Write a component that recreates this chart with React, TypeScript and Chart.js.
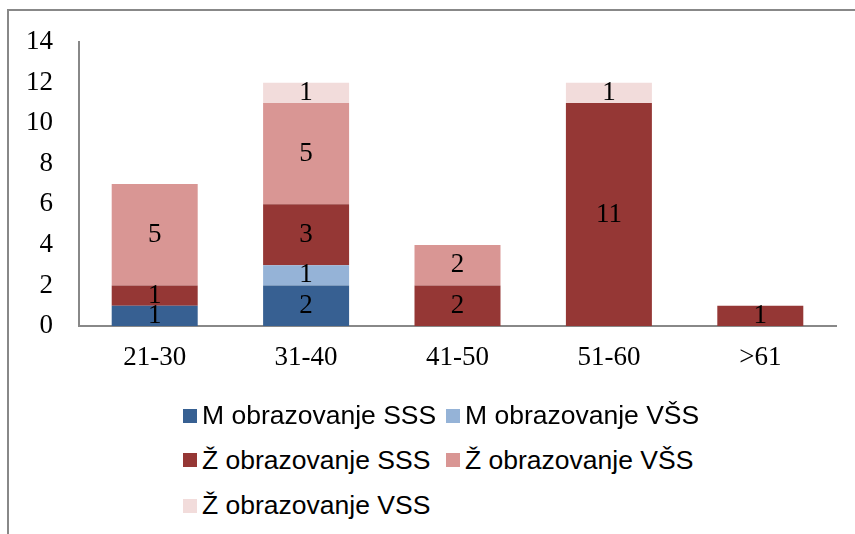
import React, { useEffect, useRef } from "react";
import { Chart, registerables } from "chart.js";

Chart.register(...registerables);

const categories = ["21-30", "31-40", "41-50", "51-60", ">61"];
const mSSS = [1, 2, 0, 0, 0];
const mVSS = [0, 1, 0, 0, 0];
const zSSS = [1, 3, 2, 11, 1];
const zVSS = [5, 5, 2, 0, 0];
const zVSSb = [0, 1, 0, 1, 0];
const seriesNames = [
  "M obrazovanje SSS",
  "M obrazovanje VŠS",
  "Ž obrazovanje SSS",
  "Ž obrazovanje VŠS",
  "Ž obrazovanje VSS",
];
const seriesValues = [mSSS, mVSS, zSSS, zVSS, zVSSb];
const seriesColors = ["#376092", "#95B3D7", "#953735", "#D99694", "#F2DCDB"];
const yMin = 0;
const yMax = 14;
const yStep = 2;

const SERIF = "'Liberation Serif', 'Times New Roman', serif";
const SANS = "'Liberation Sans', Arial, sans-serif";

const valueLabels = {
  id: "valueLabels",
  afterDatasetsDraw(chart: any) {
    const ctx = chart.ctx;
    ctx.save();
    ctx.font = `27px ${SERIF}`;
    ctx.fillStyle = "#000";
    ctx.textAlign = "center";
    ctx.textBaseline = "middle";
    chart.data.datasets.forEach((ds: any, di: number) => {
      const meta = chart.getDatasetMeta(di);
      meta.data.forEach((el: any, i: number) => {
        const v = ds.data[i];
        if (!v) return;
        const y = (el.y + el.base) / 2;
        ctx.fillText(String(v), el.x, y);
      });
    });
    ctx.restore();
  },
};

export default function App() {
  const ref = useRef<HTMLCanvasElement | null>(null);

  useEffect(() => {
    if (!ref.current) return;
    const chart = new Chart(ref.current, {
      type: "bar",
      data: {
        labels: categories,
        datasets: seriesValues.map((vals, i) => ({
          label: seriesNames[i],
          data: vals,
          backgroundColor: seriesColors[i],
          borderWidth: 0,
          barPercentage: 0.568,
          categoryPercentage: 1,
        })),
      },
      options: {
        responsive: false,
        animation: false,
        events: [],
        layout: { padding: { left: 0, right: 19, top: 39, bottom: 14 } },
        plugins: {
          legend: { display: false },
          tooltip: { enabled: false },
          title: { display: false },
        },
        scales: {
          x: {
            stacked: true,
            grid: { display: false, drawTicks: false },
            border: { display: true, color: "#888888", width: 2 },
            ticks: {
              color: "#000",
              font: { family: SERIF, size: 27 },
              padding: 16,
              maxRotation: 0,
            },
            afterFit: (s: any) => {
              s.height = 60;
            },
          },
          y: {
            stacked: true,
            min: yMin,
            max: yMax,
            grid: { display: false, drawTicks: false },
            border: { display: true, color: "#888888", width: 2 },
            ticks: {
              stepSize: yStep,
              color: "#000",
              font: { family: SERIF, size: 27 },
              padding: 26,
            },
            afterFit: (s: any) => {
              s.width = 79;
            },
          },
        },
      },
      plugins: [valueLabels],
    });
    return () => chart.destroy();
  }, []);

  const colX = [183, 446];
  const rowY = [415.5, 460, 505.5];

  return (
    <div
      style={{
        position: "fixed",
        left: 0,
        top: 0,
        width: 855,
        height: 534,
        overflow: "hidden",
        background: "#fff",
      }}
    >
      <div
        style={{
          position: "absolute",
          left: 7,
          top: 9,
          width: 900,
          height: 600,
          border: "2px solid #888888",
          boxSizing: "border-box",
        }}
      />
      <canvas
        ref={ref}
        width={855}
        height={400}
        style={{ position: "absolute", left: 0, top: 0, width: 855, height: 400 }}
      />
      {seriesNames.map((name, i) => {
        const col = i % 2;
        const row = Math.floor(i / 2);
        return (
          <div
            key={name}
            style={{
              position: "absolute",
              left: colX[col],
              top: rowY[row] - 20,
              height: 40,
              display: "flex",
              alignItems: "center",
              whiteSpace: "nowrap",
              fontFamily: SANS,
              fontSize: 26.5,
              color: "#000",
            }}
          >
            <span
              style={{
                display: "inline-block",
                width: 14,
                height: 14,
                background: seriesColors[i],
                marginRight: 5,
              }}
            />
            <span>{name}</span>
          </div>
        );
      })}
    </div>
  );
}
